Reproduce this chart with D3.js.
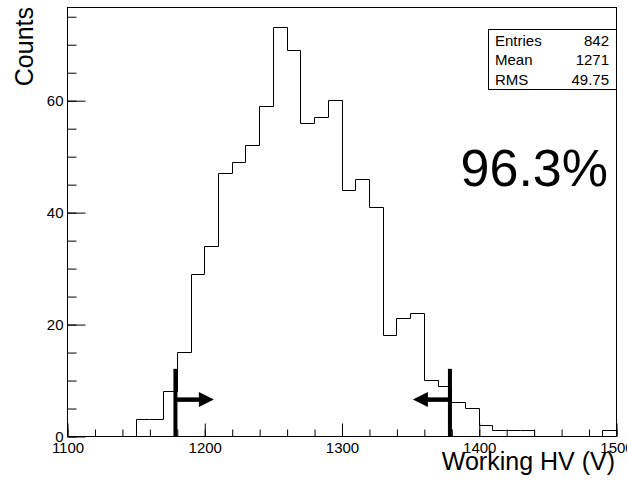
<!DOCTYPE html>
<html>
<head>
<meta charset="utf-8">
<script src="https://cdn.jsdelivr.net/npm/d3@7"></script>
<style>
  body { margin: 0; background: #fff; }
  svg { display: block; font-family: "Liberation Sans", Arial, sans-serif; }
</style>
</head>
<body>
<svg id="chart" width="627" height="486"></svg>
<script>
// histogram bins (lower edge, 10 V wide) and counts
var binLow = [1100, 1110, 1120, 1130, 1140, 1150, 1160, 1170, 1180, 1190,
              1200, 1210, 1220, 1230, 1240, 1250, 1260, 1270, 1280, 1290,
              1300, 1310, 1320, 1330, 1340, 1350, 1360, 1370, 1380, 1390,
              1400, 1410, 1420, 1430, 1440, 1450, 1460, 1470, 1480, 1490];
var counts = [0, 0, 0, 0, 0, 3, 3, 8, 15, 29,
              34, 47, 49, 52, 59, 73, 69, 56, 57, 60,
              44, 46, 41, 18, 21, 22, 10, 9, 6, 5,
              2, 1, 1, 1, 0, 0, 0, 0, 0, 1];
var binWidth = 10;

var xTicks = [1100, 1200, 1300, 1400, 1500];
var yTicks = [0, 20, 40, 60];

var statNames = ['Entries', 'Mean', 'RMS'];
var statValues = ['842', '1271', '49.75'];

var cuts = [1179, 1379];       // working HV window
var arrowTips = [1207, 1352];
var cutHeight = 12, arrowLevel = 6.5;
var efficiency = '96.3%';

//UI configuration
var frame = { left: 67, right: 616, top: 7, bottom: 436 };

var svg = d3.select('#chart');

var x = d3.scaleLinear().domain([1100, 1500]).range([frame.left, frame.right]);
var y = d3.scaleLinear().domain([0, 76.65]).range([frame.bottom, frame.top]);

//frame box
svg.append('rect')
    .attr('x', frame.left + 0.5)
    .attr('y', frame.top + 0.5)
    .attr('width', frame.right - frame.left)
    .attr('height', frame.bottom - frame.top)
    .attr('fill', 'none')
    .attr('stroke', '#000')
    .attr('stroke-width', 1);

//x axis (major 100, minor 20)
var xAxis = d3.axisTop(x).tickValues(xTicks).tickSize(13).tickFormat(d3.format('d'));
var gx = svg.append('g')
    .attr('transform', 'translate(0.5,' + (frame.bottom + 0.5) + ')')
    .call(xAxis);
gx.select('.domain').remove();
gx.selectAll('text')
    .attr('y', 16)
    .attr('dy', 0)
    .attr('font-size', 15)
    .attr('font-family', '"Liberation Sans", Arial, sans-serif')
    .attr('fill', '#000');
svg.append('g')
    .attr('transform', 'translate(0.5,' + (frame.bottom + 0.5) + ')')
    .call(d3.axisTop(x).ticks(20).tickSize(7).tickFormat(''))
    .select('.domain').remove();

//y axis (major 20, minor 5)
var yAxis = d3.axisRight(y).tickValues(yTicks).tickSize(18).tickFormat(d3.format('d'));
var gy = svg.append('g')
    .attr('transform', 'translate(' + (frame.left + 0.5) + ',0.5)')
    .call(yAxis);
gy.select('.domain').remove();
gy.selectAll('text')
    .attr('x', -4)
    .attr('text-anchor', 'end')
    .attr('font-size', 15)
    .attr('font-family', '"Liberation Sans", Arial, sans-serif')
    .attr('fill', '#000');
svg.append('g')
    .attr('transform', 'translate(' + (frame.left + 0.5) + ',0.5)')
    .call(d3.axisRight(y).ticks(15).tickSize(9).tickFormat(''))
    .select('.domain').remove();

svg.selectAll('.tick line').attr('stroke', '#000');

//histogram outline
var pts = [];
binLow.forEach(function (b, i) {
    pts.push([b, counts[i]]);
    pts.push([b + binWidth, counts[i]]);
});
var line = d3.line()
    .x(function (d) { return Math.round(x(d[0])) + 0.5; })
    .y(function (d) { return Math.round(y(d[1])) + 0.5; });
svg.append('path')
    .attr('d', line(pts))
    .attr('fill', 'none')
    .attr('stroke', '#000')
    .attr('stroke-width', 1);

//cut lines and arrows
cuts.forEach(function (c, i) {
    svg.append('line')
        .attr('x1', x(c)).attr('x2', x(c))
        .attr('y1', y(0)).attr('y2', y(cutHeight))
        .attr('stroke', '#000')
        .attr('stroke-width', 4);
    var tip = arrowTips[i];
    var dir = tip > c ? 1 : -1;
    var headLen = 15, headHalf = 7.5;
    svg.append('line')
        .attr('x1', x(c)).attr('x2', x(tip) - dir * headLen + dir)
        .attr('y1', y(arrowLevel)).attr('y2', y(arrowLevel))
        .attr('stroke', '#000')
        .attr('stroke-width', 4.5);
    svg.append('path')
        .attr('d', d3.line()([
            [x(tip), y(arrowLevel)],
            [x(tip) - dir * headLen, y(arrowLevel) - headHalf],
            [x(tip) - dir * headLen, y(arrowLevel) + headHalf]
        ]) + 'Z')
        .attr('fill', '#000');
});

//stats box
var box = { x: 488, y: 29, w: 128, h: 60 };
svg.append('rect')
    .attr('x', box.x + 0.5).attr('y', box.y + 0.5)
    .attr('width', box.w).attr('height', box.h)
    .attr('fill', '#fff')
    .attr('stroke', '#000');
statNames.forEach(function (n, i) {
    svg.append('text')
        .attr('x', box.x + 7)
        .attr('y', box.y + 17 + i * 19.3)
        .attr('font-size', 15)
        .text(n);
    svg.append('text')
        .attr('x', box.x + box.w - 7)
        .attr('y', box.y + 17 + i * 19.3)
        .attr('font-size', 15)
        .attr('text-anchor', 'end')
        .text(statValues[i]);
});

//efficiency label
svg.append('text')
    .attr('x', 608)
    .attr('y', 185.5)
    .attr('font-size', 52)
    .attr('text-anchor', 'end')
    .text(efficiency);

//axis titles
svg.append('text')
    .attr('x', 615)
    .attr('y', 470)
    .attr('font-size', 25)
    .attr('text-anchor', 'end')
    .text('Working HV (V)');
svg.append('text')
    .attr('transform', 'translate(33,7) rotate(-90)')
    .attr('font-size', 25)
    .attr('text-anchor', 'end')
    .text('Counts');
</script>
</body>
</html>
